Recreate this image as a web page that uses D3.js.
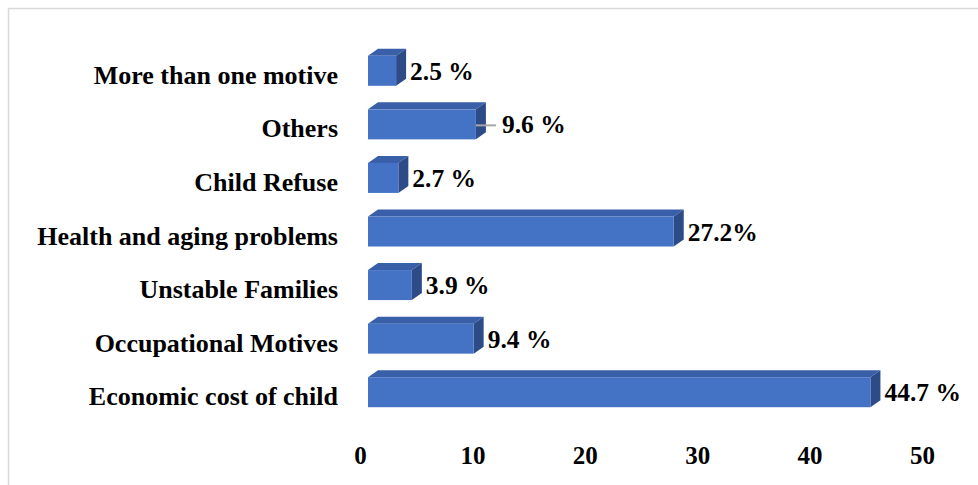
<!DOCTYPE html>
<html>
<head>
<meta charset="utf-8">
<script src="https://cdn.jsdelivr.net/npm/d3@7"></script>
<style>
  body { margin: 0; background: #fff; }
  text { font-family: "Liberation Serif", "Times New Roman", serif; font-weight: bold; fill: #000; }
</style>
</head>
<body>
<div id="chart"></div>
<script>
// categories from top to bottom
var categories = ["More than one motive", "Others", "Child Refuse", "Health and aging problems",
  "Unstable Families", "Occupational Motives", "Economic cost of child"];
var values = [2.5, 9.6, 2.7, 27.2, 3.9, 9.4, 44.7];
var valueLabels = ["2.5 %", "9.6 %", "2.7 %", "27.2%", "3.9 %", "9.4 %", "44.7 %"];
var ticks = [0, 10, 20, 30, 40, 50];

var width = 978, height = 485;
var depthX = 10, depthY = 7; // 3d offset of the bars
var barH = 30;

var svg = d3.select("#chart").append("svg")
  .attr("width", width)
  .attr("height", height);

// chart border
svg.append("rect")
  .attr("x", 8.5).attr("y", 8.5)
  .attr("width", width).attr("height", height)
  .attr("fill", "none")
  .attr("stroke", "#d9d9d9")
  .attr("stroke-width", 1.5);

var x = d3.scaleLinear().domain([0, 50]).range([368, 930]);
var y = d3.scaleBand().domain(categories).range([44, 419]);

var rows = categories.map(function(c, i) {
  return {cat: c, val: values[i], label: valueLabels[i]};
});

var g = svg.append("g").attr("class", "bars");

rows.forEach(function(d) {
  var x0 = x(0), x1 = x(d.val);
  var yc = y(d.cat) + y.bandwidth() / 2;
  var yt = yc - barH / 2, yb = yc + barH / 2;
  // top face
  g.append("polygon")
    .attr("points", [[x0, yt], [x0 + depthX, yt - depthY], [x1 + depthX, yt - depthY], [x1, yt]].join(" "))
    .attr("fill", "#3a5fa9");
  // side face
  g.append("polygon")
    .attr("points", [[x1, yt], [x1 + depthX, yt - depthY], [x1 + depthX, yb - depthY], [x1, yb]].join(" "))
    .attr("fill", "#2d4b87");
  // front face
  g.append("rect")
    .attr("x", x0).attr("y", yt)
    .attr("width", x1 - x0).attr("height", barH)
    .attr("fill", "#4472c4");
});

// category labels
svg.append("g").selectAll("text")
  .data(rows).enter()
  .append("text")
  .attr("x", 338)
  .attr("y", function(d) { return y(d.cat) + y.bandwidth() / 2 + 13; })
  .attr("text-anchor", "end")
  .style("font-size", "26px")
  .text(function(d) { return d.cat; });

// value labels ("Others" is pushed out with a leader line)
var vl = svg.append("g");
rows.forEach(function(d) {
  var yc = y(d.cat) + y.bandwidth() / 2;
  var lx = x(d.val) + depthX + 4;
  if (d.cat === "Others") {
    vl.append("line")
      .attr("x1", x(d.val)).attr("x2", x(d.val) + 20)
      .attr("y1", yc + 1).attr("y2", yc + 1)
      .attr("stroke", "#a6a6a6").attr("stroke-width", 2);
    lx = x(d.val) + 26;
  }
  vl.append("text")
    .attr("x", lx)
    .attr("y", yc + 9)
    .style("font-size", "25.5px")
    .text(d.label);
});

// x axis (labels only, shifted onto the projected floor)
var axis = svg.append("g")
  .attr("transform", "translate(-8," + 440 + ")")
  .call(d3.axisBottom(x).tickValues(ticks).tickSize(0).tickPadding(0));
axis.select(".domain").remove();
axis.selectAll("text")
  .attr("dy", 0).attr("y", 24)
  .style("font-size", "25px");
</script>
</body>
</html>
